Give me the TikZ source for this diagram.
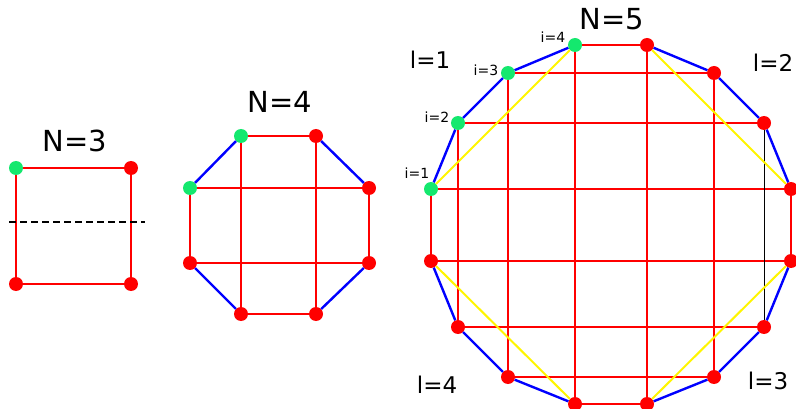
\documentclass[tikz,border=0pt]{standalone}
\usepackage{fontspec}
\setmainfont{DejaVu Sans}
\usetikzlibrary{positioning}
\definecolor{dotgreen}{RGB}{20,232,110}
\definecolor{chordyellow}{RGB}{255,245,0}
\tikzset{
  reddot/.style={circle,fill=red,inner sep=0pt,minimum size=14pt},
  greendot/.style={reddot,fill=dotgreen},
  redline/.style={red,line width=2.4pt},
  blueline/.style={blue,line width=2.4pt},
  yellowline/.style={chordyellow,line width=2pt},
  title/.style={font=\fontsize{29}{29}\selectfont},
  sector/.style={font=\fontsize{23}{23}\selectfont},
  index/.style={font=\fontsize{14}{14}\selectfont}
}

\begin{document}
\begin{tikzpicture}[x=1pt,y=-1pt]
  \useasboundingbox (0,0) rectangle (796,409);
  % N=3
  \node[title] (n3) at (75,141) {N=3};
  \node[greendot] (s1) at (16,168) {};
  \node[reddot] (s2) at (131,168) {};
  \node[reddot] (s3) at (131,284) {};
  \node[reddot] (s4) at (16,284) {};
  \draw[redline] (s1) -- (s2) -- (s3) -- (s4) -- (s1);
  \coordinate (cutl) at (9,222);
  \coordinate (cutr) at (145,222);
  \draw[line width=2.2pt,dash pattern=on 7pt off 4pt] (cutl) -- (cutr);
  % N=4
  \node[title] (n4) at (280,102) {N=4};
  \node[greendot] (q1) at (190,188) {};
  \node[greendot] (q2) at (241,136) {};
  \node[reddot] (q3) at (316,136) {};
  \node[reddot] (q4) at (369,188) {};
  \node[reddot] (q5) at (369,263) {};
  \node[reddot] (q6) at (316,314) {};
  \node[reddot] (q7) at (241,314) {};
  \node[reddot] (q8) at (190,263) {};
  \draw[redline] (q2) -- (q3);
  \draw[redline] (q1) -- (q4);
  \draw[redline] (q8) -- (q5);
  \draw[redline] (q7) -- (q6);
  \draw[redline] (q2) -- (q7);
  \draw[redline] (q3) -- (q6);
  \draw[redline] (q1) -- (q8);
  \draw[redline] (q4) -- (q5);
  \draw[blueline] (q1) -- (q2);
  \draw[blueline] (q3) -- (q4);
  \draw[blueline] (q5) -- (q6);
  \draw[blueline] (q7) -- (q8);
  % N=5
  \node[title] (n5) at (612,19) {N=5};
  \node[greendot] (a1) at (431,189) {};
  \node[greendot] (a2) at (458,123) {};
  \node[greendot] (a3) at (508,73) {};
  \node[greendot] (a4) at (575,45) {};
  \node[reddot] (b1) at (647,45) {};
  \node[reddot] (b2) at (714,73) {};
  \node[reddot] (b3) at (764,123) {};
  \node[reddot] (b4) at (791,189) {};
  \node[reddot] (c1) at (791,261) {};
  \node[reddot] (c2) at (764,327) {};
  \node[reddot] (c3) at (714,377) {};
  \node[reddot] (c4) at (647,404) {};
  \node[reddot] (d1) at (575,404) {};
  \node[reddot] (d2) at (508,377) {};
  \node[reddot] (d3) at (458,327) {};
  \node[reddot] (d4) at (431,261) {};
  \draw[redline] (a4) -- (b1);
  \draw[redline] (a3) -- (b2);
  \draw[redline] (a2) -- (b3);
  \draw[redline] (a1) -- (b4);
  \draw[redline] (d4) -- (c1);
  \draw[redline] (d3) -- (c2);
  \draw[redline] (d2) -- (c3);
  \draw[redline] (d1) -- (c4);
  \draw[redline] (a1) -- (d4);
  \draw[redline] (a2) -- (d3);
  \draw[redline] (a3) -- (d2);
  \draw[redline] (a4) -- (d1);
  \draw[redline] (b1) -- (c4);
  \draw[redline] (b2) -- (c3);
  \draw[redline] (b4) -- (c1);
  \draw[line width=1pt] (b3) -- (c2);
  \draw[yellowline] (a1) -- (a4);
  \draw[yellowline] (b1) -- (b4);
  \draw[yellowline] (c1) -- (c4);
  \draw[yellowline] (d1) -- (d4);
  \draw[blueline] (a1) -- (a2) -- (a3) -- (a4);
  \draw[blueline] (b1) -- (b2) -- (b3) -- (b4);
  \draw[blueline] (c1) -- (c2) -- (c3) -- (c4);
  \draw[blueline] (d1) -- (d2) -- (d3) -- (d4);
  \node[sector] (l1) at (430,60) {l=1};
  \node[sector] (l2) at (773,63) {l=2};
  \node[sector] (l3) at (768,381) {l=3};
  \node[sector] (l4) at (437,385) {l=4};
  \node[index] (i1) at (417,173) {i=1};
  \node[index] (i2) at (437,117) {i=2};
  \node[index] (i3) at (486,70) {i=3};
  \node[index] (i4) at (553,37) {i=4};
\end{tikzpicture}
\end{document}
